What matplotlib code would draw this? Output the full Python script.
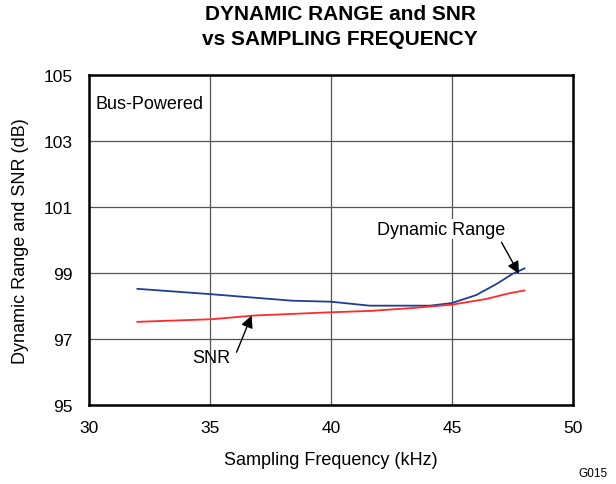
import matplotlib
matplotlib.use('Agg')
import matplotlib.pyplot as plt

plt.rcParams['font.family'] = ['Liberation Sans', 'DejaVu Sans']

# Dynamic range curve (kHz, dB)
dr_freq = [32, 35, 38.4, 40, 41.6, 44.1, 45, 46.0, 46.85, 47.5, 48]
dr_db = [98.52, 98.36, 98.16, 98.13, 98.01, 98.01, 98.09, 98.33, 98.67, 98.97, 99.14]

# SNR curve (kHz, dB)
snr_freq = [32, 35.1, 36.8, 40, 41.6, 43.4, 45, 46.4, 47.4, 48]
snr_db = [97.52, 97.6, 97.71, 97.81, 97.85, 97.94, 98.04, 98.21, 98.39, 98.47]

x_ticks = [30, 35, 40, 45, 50]
y_ticks = [95, 97, 99, 101, 103, 105]

fig = plt.figure(figsize=(6.16, 4.85), dpi=100)
ax = fig.add_axes([0.1445, 0.1629, 0.7855, 0.6804])

ax.plot(dr_freq, dr_db, color='#1f3c96', lw=1.3, zorder=3)
ax.plot(snr_freq, snr_db, color='#ff2a2a', lw=1.3, zorder=3)

ax.set_xlim(30, 50)
ax.set_ylim(95, 105)
ax.set_xticks(x_ticks)
ax.set_yticks(y_ticks)
ax.tick_params(length=0, labelsize=12.5)
ax.tick_params(axis='x', pad=11)
ax.tick_params(axis='y', pad=12)
ax.grid(True, color='#555555', lw=0.9)
for s in ax.spines.values():
    s.set_linewidth(1.8)

ax.set_xlabel('Sampling Frequency (kHz)', fontsize=13, labelpad=11)
ax.set_ylabel('Dynamic Range and SNR (dB)', fontsize=13, labelpad=10)
fig.text(340 / 616, 1 - 27 / 485, 'DYNAMIC RANGE and SNR\nvs SAMPLING FREQUENCY',
         fontsize=15, fontweight='bold', ha='center', va='center', linespacing=1.45)

ax.text(30.25, 104.15, 'Bus-Powered', fontsize=13, va='center', ha='left',
        bbox=dict(facecolor='white', edgecolor='none', pad=1.5), zorder=4)

ax.text(44.55, 100.33, 'Dynamic Range', fontsize=13, ha='center', va='center',
        bbox=dict(facecolor='white', edgecolor='none', pad=1.0), zorder=4)
ax.annotate('', xy=(47.77, 98.98), xytext=(47.05, 99.93),
            arrowprops=dict(arrowstyle='-|>', color='black', lw=1.0,
                            mutation_scale=18, shrinkA=0, shrinkB=0), zorder=4)
ax.text(35.04, 96.45, 'SNR', fontsize=13, ha='center', va='center', zorder=4)
ax.annotate('', xy=(36.72, 97.71), xytext=(36.1, 96.6),
            arrowprops=dict(arrowstyle='-|>', color='black', lw=1.0,
                            mutation_scale=18, shrinkA=0, shrinkB=0), zorder=4)

fig.text(0.987, 1 - 474 / 485, 'G015', fontsize=8.5, ha='right', va='center')

fig.savefig('out.png', dpi=100)
